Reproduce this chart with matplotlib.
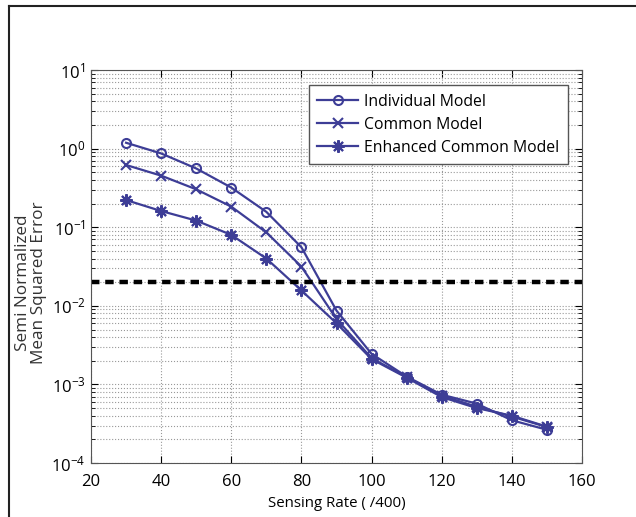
import numpy as np
import matplotlib
matplotlib.use('Agg')
from matplotlib import pyplot as plt
from matplotlib.lines import Line2D

sensing_rate = [30, 40, 50, 60, 70, 80, 90, 100, 110, 120, 130, 140, 150]
individual_model = [1.19, 0.87, 0.56, 0.32, 0.157, 0.0557, 0.0087, 0.00245, 0.00126, 0.00074, 0.00057, 0.00035, 0.000265]
common_model = [0.62, 0.454, 0.304, 0.183, 0.086, 0.0316, 0.0068, 0.00216, 0.00124, 0.00072, 0.00052, 0.00039, 0.000287]
enhanced_common_model = [0.222, 0.161, 0.1216, 0.08, 0.04, 0.0157, 0.006, 0.0021, 0.00122, 0.00069, 0.0005, 0.0004, 0.00029]
threshold = 0.02

series_labels = ['Individual Model', 'Common Model', 'Enhanced Common Model']
x_ticks = [20, 40, 60, 80, 100, 120, 140, 160]

plt.rcParams['font.family'] = ['Open Sans', 'DejaVu Sans']
line_color = '#3d3d96'

fig = plt.figure(figsize=(6.36, 5.17), dpi=100)
ax = fig.add_axes([0.1431, 0.1044, 0.772, 0.760])

ax.plot(sensing_rate, individual_model, color=line_color, lw=1.6, marker='o',
        markersize=6.5, markerfacecolor='none', markeredgewidth=1.5, label=series_labels[0])
ax.plot(sensing_rate, common_model, color=line_color, lw=1.6, marker='x',
        markersize=7.5, markeredgewidth=1.5, label=series_labels[1])
ax.plot(sensing_rate, enhanced_common_model, color=line_color, lw=1.6, marker=(8, 2, 0),
        markersize=9, markeredgewidth=1.5, label=series_labels[2])
ax.axhline(threshold, color='black', lw=3.2, dashes=(1.9, 1.3))

ax.set_yscale('log')
ax.set_xlim(20, 160)
ax.set_ylim(1e-4, 1e1)
ax.set_xticks(x_ticks)
ax.set_yticks([1e-4, 1e-3, 1e-2, 1e-1, 1e0, 1e1])

ax.grid(True, which='major', color='#999999', linestyle=':', linewidth=0.8)
ax.grid(True, which='minor', axis='y', color='#999999', linestyle=':', linewidth=0.8)
ax.tick_params(which='both', direction='in', top=True, right=True, labelsize=12)
ax.tick_params(axis='x', pad=8)
ax.tick_params(axis='y', pad=4)
ax.tick_params(which='major', length=5)
ax.tick_params(which='minor', length=3)
for spine in ax.spines.values():
    spine.set_color('#555555')

ax.set_xlabel('Sensing Rate ( /400)', fontsize=10.8, labelpad=4)
fig.text(31 / 636, 1 - 283 / 517, 'Semi Normalized\nMean Squared Error', rotation=90,
         ha='center', va='center', fontsize=12.3, linespacing=0.95, color='#333333')

leg = ax.legend(loc='upper right', fontsize=11.3, fancybox=False, framealpha=1,
                edgecolor='#555555', borderpad=0.55, handlelength=2.6,
                bbox_to_anchor=(0.9875, 0.982), labelspacing=0.45, handletextpad=0.4)
leg.get_frame().set_linewidth(1.0)

# outer frame (clipped at right and bottom)
fig.add_artist(Line2D([0.014, 1.0], [0.988, 0.988], color='#222222', lw=1.5, transform=fig.transFigure))
fig.add_artist(Line2D([0.014, 0.014], [0.0, 0.988], color='#222222', lw=1.5, transform=fig.transFigure))

fig.savefig('out.png', dpi=100)
